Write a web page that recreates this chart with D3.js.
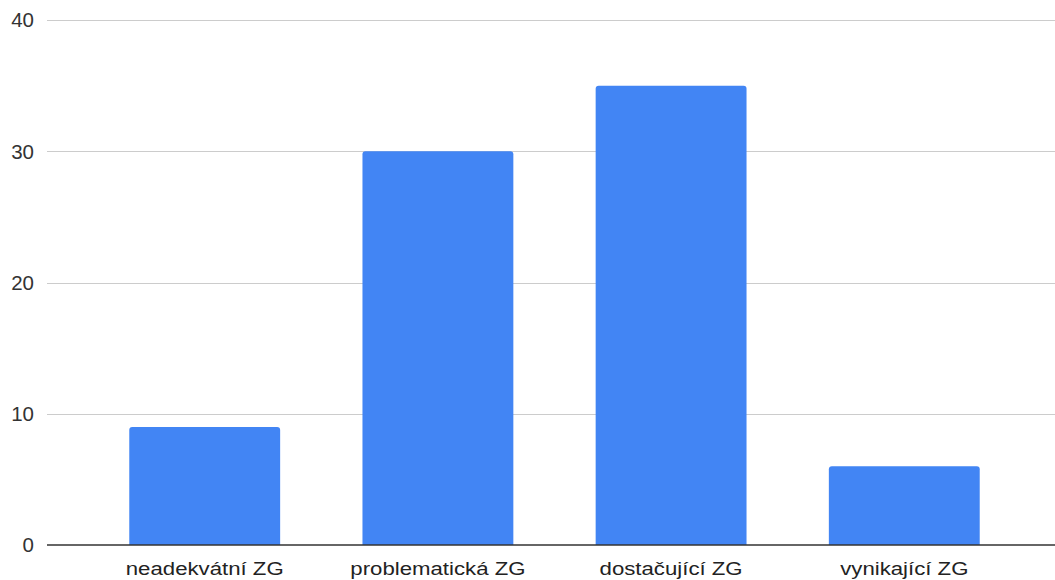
<!DOCTYPE html>
<html>
<head>
<meta charset="utf-8">
<script src="https://cdn.jsdelivr.net/npm/d3@7"></script>
<style>
  html, body { margin: 0; padding: 0; background: #fff; }
  svg { display: block; }
  text { font-family: "Liberation Sans", Arial, sans-serif; fill: #222; }
</style>
</head>
<body>
<svg id="chart" width="1055" height="580"></svg>
<script>
// Počty podle kategorie
const categories = ["neadekvátní ZG", "problematická ZG", "dostačující ZG", "vynikající ZG"];
const values = [9, 30, 35, 6];
const yTicks = [0, 10, 20, 30, 40];

const W = 1055, H = 580;
const plot = { left: 47, right: 1055, top: 20, bottom: 545 };

const svg = d3.select("#chart");

const y = d3.scaleLinear().domain([0, 40]).range([plot.bottom, plot.top]);
const x = d3.scaleBand()
  .domain(categories)
  .range([88, 1021])
  .paddingInner(0.353)
  .paddingOuter(0.177);

// Vodorovné mřížky
svg.append("g")
  .selectAll("line")
  .data(yTicks.filter(d => d !== 0))
  .join("line")
  .attr("x1", plot.left)
  .attr("x2", plot.right)
  .attr("y1", d => Math.round(y(d)) + 0.5)
  .attr("y2", d => Math.round(y(d)) + 0.5)
  .attr("stroke", "#cccccc")
  .attr("stroke-width", 1);

// Popisky osy Y
svg.append("g")
  .selectAll("text")
  .data(yTicks)
  .join("text")
  .attr("x", 34)
  .attr("y", d => y(d))
  .attr("dy", "0.36em")
  .attr("text-anchor", "end")
  .style("font-size", "20.5px")
  .style("fill", "#333")
  .text(d => d);

// Sloupce se zaoblenými horními rohy
const r = 3;
svg.append("g")
  .selectAll("path")
  .data(categories.map((c, i) => ({ c, v: values[i] })))
  .join("path")
  .attr("fill", "#4285f4")
  .attr("d", d => {
    const x0 = x(d.c), x1 = x0 + x.bandwidth();
    const y0 = y(d.v), y1 = y(0);
    return `M${x0},${y1}V${y0 + r}Q${x0},${y0} ${x0 + r},${y0}H${x1 - r}Q${x1},${y0} ${x1},${y0 + r}V${y1}Z`;
  });

// Osa X
svg.append("line")
  .attr("x1", plot.left)
  .attr("x2", plot.right)
  .attr("y1", y(0))
  .attr("y2", y(0))
  .attr("stroke", "#333")
  .attr("stroke-width", 1.5);

// Popisky kategorií (mírně rozšířené písmo)
svg.append("g")
  .selectAll("text")
  .data(categories)
  .join("text")
  .attr("transform", d => `translate(${x(d) + x.bandwidth() / 2},575) scale(1.2,1)`)
  .attr("text-anchor", "middle")
  .style("font-size", "18.5px")
  .style("fill", "#222")
  .text(d => d);
</script>
</body>
</html>
